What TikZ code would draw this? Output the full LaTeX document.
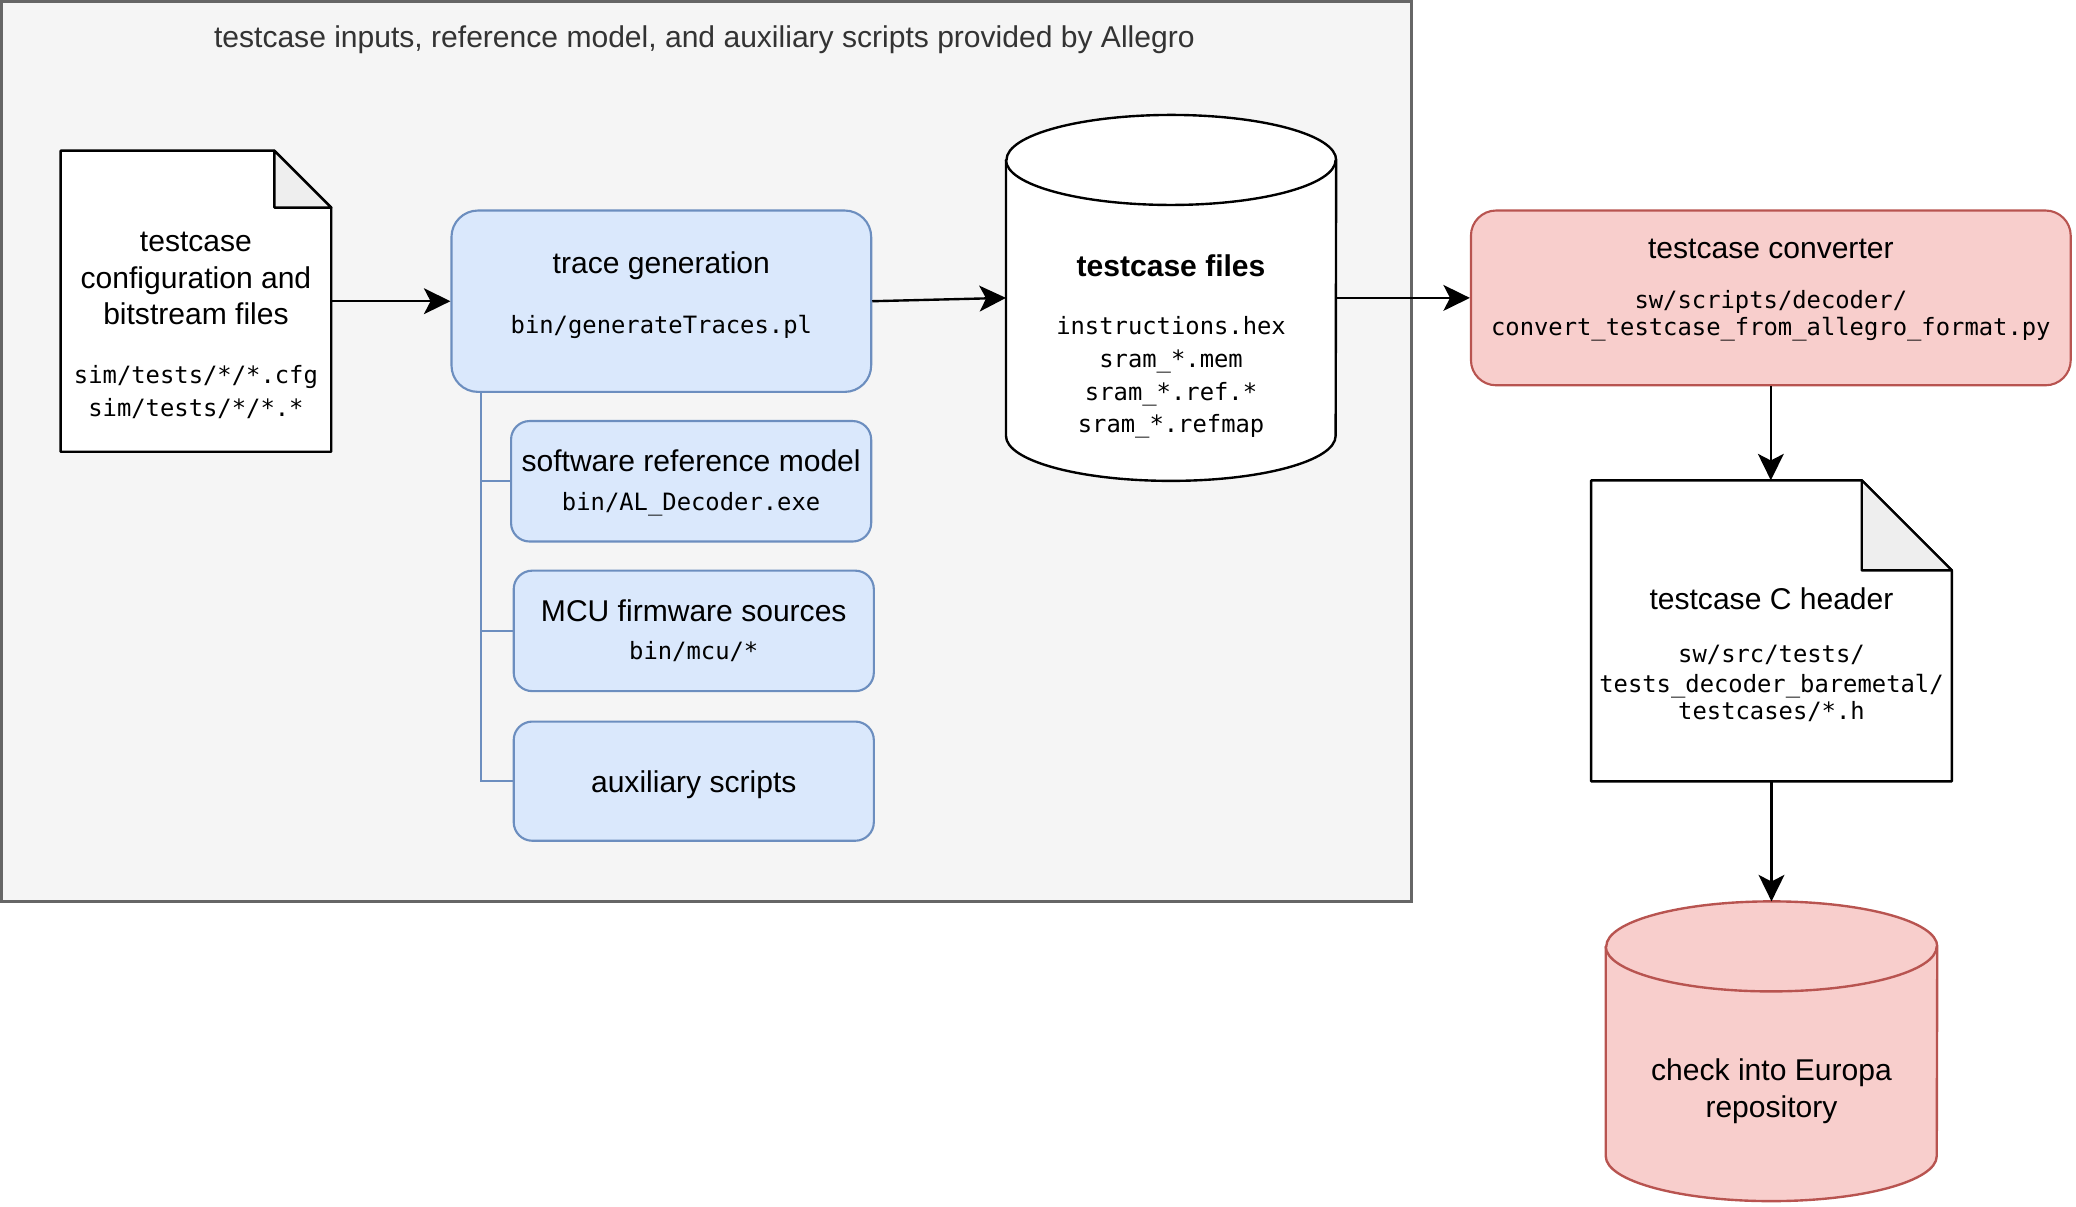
\documentclass[tikz,border=0pt]{standalone}
\usepackage{fontspec}
\setmainfont{Liberation Sans}
\setmonofont{DejaVu Sans Mono}
\usepackage{tikz}
\usetikzlibrary{arrows.meta}

\definecolor{groupfill}{HTML}{F5F5F5}
\definecolor{groupline}{HTML}{666666}
\definecolor{grouptext}{HTML}{333333}
\definecolor{bluefill}{HTML}{DAE8FC}
\definecolor{blueline}{HTML}{6C8EBF}
\definecolor{redfill}{HTML}{F8CECC}
\definecolor{redline}{HTML}{B85450}
\definecolor{foldgray}{HTML}{EEEEEE}

\newcommand{\fname}[1]{{\fontsize{18}{21.6}\selectfont\ttfamily #1}}

\begin{document}
\begin{tikzpicture}[x=1pt,y=1pt,
  font=\fontsize{22.7}{27.5}\selectfont,
  outline/.style={draw=black,line width=1.8pt,line join=round},
  shapebox/.style={rectangle,inner sep=0pt},
  bluebox/.style={shapebox,draw=blueline,fill=bluefill,line width=1.6pt,rounded corners=14pt},
  redbox/.style={shapebox,draw=redline,fill=redfill,line width=1.6pt,rounded corners=19pt},
  txt/.style={anchor=north,align=center,inner sep=0pt},
  tree/.style={draw=blueline,line width=1.6pt},
  flow/.style={-{Stealth[length=20pt,width=19.5pt,inset=5pt]},line width=1.8pt}]
\useasboundingbox (0,0) rectangle (1568,-911);
%
\newcommand{\docpage}[2]{
  \draw[outline,fill=white] (#1.north west) -- ([xshift=-#2]#1.north east)
    -- ([yshift=-#2]#1.north east) -- (#1.south east) -- (#1.south west) -- cycle;
  \draw[outline,fill=foldgray] ([xshift=-#2]#1.north east) |- ([yshift=-#2]#1.north east) -- cycle;
}
\newcommand{\dbdrum}[5]{
  \draw[outline,fill=#4,draw=#5] ([yshift=-#3]#1.north west) -- ([yshift=#3]#1.south west)
    arc[start angle=180,end angle=360,x radius=#2,y radius=#3]
    -- ([yshift=-#3]#1.north east)
    arc[start angle=0,end angle=180,x radius=#2,y radius=#3] -- cycle;
  \draw[outline,draw=#5] ([yshift=-#3]#1.north west)
    arc[start angle=180,end angle=360,x radius=#2,y radius=#3];
}
%
% group provided by Allegro
\node[shapebox,draw=groupline,fill=groupfill,line width=1.8pt,
  minimum width=1065,minimum height=680] (allegro) at (533.5,-341) {};
\node[txt,text=grouptext] (allegrotitle) at (532,-16.75) {\strut testcase inputs, reference model, and auxiliary scripts provided by Allegro};
%
\node[shapebox,minimum width=204,minimum height=227] (cfgdoc) at (148,-227.5) {};
\docpage{cfgdoc}{43pt}
\node[txt] (cfgtext) at (148,-170.75) {\strut testcase\\configuration and\\bitstream files\\[17pt]
  \fname{sim/tests/*/*.cfg}\\[-2.5pt]\fname{sim/tests/*/*.*}};
%
\node[bluebox,rounded corners=20pt,minimum width=317,minimum height=137] (trace) at (499.5,-227.5) {};
\node[txt] (tracetext) at (499.5,-186.75) {\strut trace generation\\[18pt]\fname{bin/generateTraces.pl}};
\node[bluebox,minimum width=272,minimum height=91] (swref) at (522,-363.5) {};
\node[txt] (swreftext) at (522,-336.75) {\strut software reference model\\[1.5pt]\fname{bin/AL\_Decoder.exe}};
\node[bluebox,minimum width=272,minimum height=91] (mcu) at (524,-476.5) {};
\node[txt] (mcutext) at (524,-449.75) {\strut MCU firmware sources\\[1.5pt]\fname{bin/mcu/*}};
\node[bluebox,minimum width=272,minimum height=90] (aux) at (524,-590) {};
\node[txt] (auxtext) at (524,-578.75) {\strut auxiliary scripts};
%
\coordinate (treex) at (363,0);
\draw[tree] (trace.south -| treex) -- (treex |- aux.west) -- (aux.west);
\draw[tree] (treex |- swref.west) -- (swref.west);
\draw[tree] (treex |- mcu.west) -- (mcu.west);
%
\node[shapebox,minimum width=249,minimum height=276] (tfiles) at (884.5,-225) {};
\dbdrum{tfiles}{124.5pt}{34pt}{white}{black}
\node[txt] (tfilestext) at (884.5,-189.75) {\strut\textbf{testcase files}\\[16pt]
  \fname{instructions.hex}\\[-2.5pt]\fname{sram\_*.mem}\\[-2.5pt]\fname{sram\_*.ref.*}\\[-3.5pt]\fname{sram\_*.refmap}};
%
\node[redbox,minimum width=453,minimum height=132] (conv) at (1337.5,-225) {};
\node[txt] (convtext) at (1337.5,-175.75) {\strut testcase converter\\[10pt]
  \fname{sw/scripts/decoder/}\\[-6.5pt]\fname{convert\_testcase\_from\_allegro\_format.py}};
%
\node[shapebox,minimum width=272,minimum height=227] (hdr) at (1338,-476.5) {};
\docpage{hdr}{68pt}
\node[txt] (hdrtext) at (1338,-440.75) {\strut testcase C header\\[13pt]
  \fname{sw/src/tests/}\\[-5.5pt]\fname{tests\_decoder\_baremetal/}\\[-6.5pt]\fname{testcases/*.h}};
%
\node[shapebox,minimum width=250,minimum height=226] (repo) at (1338,-794) {};
\dbdrum{repo}{125pt}{34pt}{redfill}{redline}
\node[txt] (repotext) at (1338,-796.75) {\strut check into Europa\\repository};
%
\draw[flow] (cfgdoc.east) -- (trace.west);
\draw[flow] (trace.east) -- (tfiles.west);
\draw[flow] (tfiles.east) -- (conv.west);
\draw[flow] (conv.south) -- (conv.south |- hdr.north);
\draw[flow] (hdr.south) -- (repo.north);
%
\end{tikzpicture}
\end{document}
